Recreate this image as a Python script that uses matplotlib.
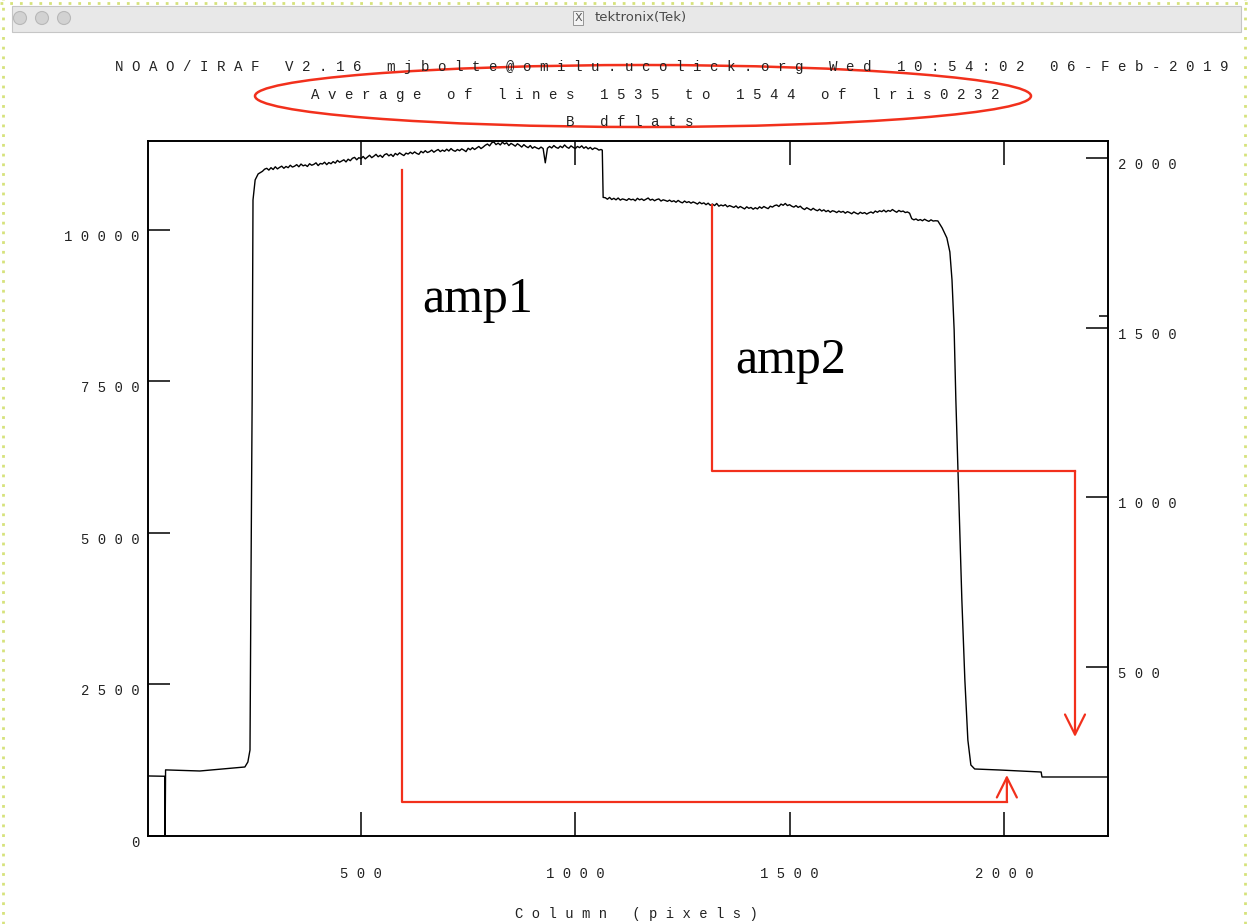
import numpy as np
import matplotlib.pyplot as plt
from matplotlib.patches import Ellipse, Rectangle
from matplotlib.lines import Line2D

W, H = 1249, 924
RED = "#f2301c"
MONO = "Liberation Mono"

# ---- data: column (pixels) vs mean counts ----
# left edge, bad column and the rise of amp1
left_cols = [3, 42, 43, 44, 124, 229, 236, 241, 243, 246, 248, 253, 260]
left_counts = [990, 985, 0, 1090, 1072, 1138, 1220, 1418, 3892, 7190, 10488, 10818, 10917]

# amp1 plateau, every 5 columns from 270 to 1060
amp1_cols = np.arange(270, 1061, 5)
amp1_counts = [
    10960, 10995, 11010, 10980, 11020, 10990, 11035, 11000, 11025, 11045,
    11010, 11040, 11020, 11060, 11030, 11045, 11070, 11035, 11080, 11050,
    11065, 11040, 11085, 11060, 11075, 11100, 11055, 11090, 11080, 11110,
    11070, 11105, 11085, 11120, 11095, 11140, 11110, 11130, 11150, 11115,
    11160, 11135, 11175, 11190, 11150, 11185, 11170, 11205, 11165, 11195,
    11225, 11185, 11210, 11240, 11200, 11225, 11190, 11235, 11250, 11215,
    11240, 11205, 11255, 11230, 11265, 11240, 11220, 11260, 11245, 11275,
    11250, 11280, 11255, 11240, 11290, 11265, 11300, 11270, 11285, 11310,
    11275, 11300, 11320, 11285, 11310, 11290, 11325, 11295, 11335, 11305,
    11290, 11320, 11300, 11330, 11310, 11285, 11340, 11315, 11350, 11320,
    11345, 11370, 11335, 11360, 11390, 11410, 11380, 11430, 11445, 11400,
    11425, 11395, 11440, 11410, 11430, 11385, 11420, 11400, 11375, 11415,
    11390, 11360, 11400, 11370, 11350, 11385, 11340, 11365, 11345, 11330,
    11360, 11335, 11100, 11340, 11370, 11345, 11385, 11355, 11340, 11375,
    11350, 11395, 11360, 11340, 11380, 11355, 11335, 11370, 11350, 11380,
    11340, 11365, 11330, 11355, 11320, 11345, 11335, 11310, 11320,
]

# step between the two amplifiers
step_cols = [1063, 1065]
step_counts = [11310, 10530]

# amp2 plateau, every 5 columns from 1070 to 1840
amp2_cols = np.arange(1070, 1841, 5)
amp2_counts = [
    10525, 10500, 10530, 10495, 10515, 10490, 10520, 10485, 10505, 10495,
    10480, 10510, 10490, 10500, 10475, 10515, 10490, 10505, 10480, 10500,
    10520, 10485, 10500, 10475, 10495, 10505, 10470, 10490, 10480, 10465,
    10485, 10460, 10475, 10450, 10480, 10455, 10440, 10470, 10445, 10460,
    10435, 10455, 10440, 10420, 10450, 10425, 10440, 10410, 10435, 10400,
    10420, 10395, 10430, 10385, 10405, 10390, 10410, 10375, 10395, 10380,
    10365, 10390, 10355, 10380, 10360, 10340, 10375, 10350, 10365, 10335,
    10360, 10340, 10375, 10350, 10380, 10360, 10345, 10385, 10370, 10395,
    10405, 10380, 10420, 10400, 10430, 10395, 10410, 10385, 10370, 10395,
    10365, 10385, 10350, 10330, 10360, 10340, 10320, 10350, 10325, 10310,
    10335, 10305, 10325, 10295, 10315, 10285, 10310, 10300, 10280, 10305,
    10285, 10300, 10270, 10295, 10280, 10260, 10290, 10270, 10255, 10285,
    10265, 10280, 10255, 10275, 10290, 10270, 10305, 10285, 10310, 10295,
    10320, 10290, 10315, 10300, 10330, 10305, 10285, 10315, 10295, 10305,
    10280, 10290, 10270, 10180, 10160, 10175, 10150, 10165, 10145, 10170,
    10150, 10135, 10160, 10140, 10145,
]

# roll-off at the right edge and the trailing overscan
right_cols = [1846, 1856, 1867, 1874, 1879, 1884, 1888, 1893, 1898, 1902,
              1909, 1916, 1923, 1932, 1991, 2087, 2089, 2243]
right_counts = [10142, 10027, 9862, 9631, 9169, 8344, 7190, 6019, 4881, 3892,
                2573, 1583, 1171, 1105, 1088, 1055, 973, 973]

xticks = [500, 1000, 1500, 2000]
yticks = [0, 2500, 5000, 7500, 10000]
rticks = [500, 1000, 1500, 2000]

header = [
    "NOAO/IRAF V2.16 mjbolte@omilu.ucolick.org Wed 10:54:02 06-Feb-2019",
    "Average of lines 1535 to 1544 of lris0232",
    "B dflats",
]


def spaced(s):
    # the Tek vector font has very wide letter spacing
    return " ".join(s)


def fx(x):
    return x / W


def fy(y):
    return 1 - y / H


column = np.concatenate([left_cols, amp1_cols, step_cols, amp2_cols, right_cols])
counts = np.concatenate([left_counts, amp1_counts, step_counts, amp2_counts, right_counts])

fig = plt.figure(figsize=(W / 100, H / 100), dpi=100)

# ---- window chrome ----
for xx in (3, 1245):
    fig.add_artist(Line2D([fx(xx), fx(xx)], [0, 1], color="#d6e27c", lw=2,
                          ls=(0, (1, 2.5))))
fig.add_artist(Line2D([0, 1], [fy(3), fy(3)], color="#d6e27c", lw=2, ls=(0, (1, 2.5))))
fig.add_artist(Rectangle((fx(12), fy(32)), fx(1241) - fx(12), 26 / H,
                         transform=fig.transFigure, facecolor="#e8e8e8",
                         edgecolor="#c6c6c6", lw=0.8))
for cx in (20, 42, 64):
    fig.add_artist(Ellipse((fx(cx), fy(18)), 13 / W, 13 / H, transform=fig.transFigure,
                           facecolor="#d2d2d2", edgecolor="#b8b8b8", lw=0.8))
fig.text(fx(578), fy(18), "X", ha="center", va="center", fontsize=8, color="#555555",
         bbox=dict(boxstyle="square,pad=0.15", fc="#f4f4f4", ec="#888888", lw=0.6))
fig.text(fx(641), fy(18), "tektronix(Tek)", ha="center", va="center",
         fontsize=9.5, color="#4a4a4a")

# ---- IRAF header ----
for (cx, cy), line in zip([(672, 67), (655, 95), (630, 122)], header):
    fig.text(fx(cx), fy(cy), spaced(line), ha="center", va="center",
             family=MONO, fontsize=10.15, color="#222222")

# ---- main plot ----
ax = fig.add_axes([fx(148), fy(836), (1108 - 148) / W, (836 - 141) / H])
ax.plot(column, counts, color="black", lw=1.0)
ax.set_xlim(3, 2243)
ax.set_ylim(0, 11460)

for sp in ax.spines.values():
    sp.set_linewidth(1.2)

ax.set_xticks(xticks)
ax.set_xticklabels([spaced(str(t)) for t in xticks], family=MONO, fontsize=10,
                   color="#222222")
ax.set_yticks(yticks)
ax.set_yticklabels([spaced(str(t)) for t in yticks], family=MONO, fontsize=10,
                   color="#222222")
ax.tick_params(axis="x", direction="in", length=17, width=1.1, top=True, pad=22)
ax.tick_params(axis="y", direction="in", length=15.8, width=1.1, right=False, pad=6)
for lab in ax.get_yticklabels():
    lab.set_va("top")

# second scale on the right hand side
ax2 = ax.twinx()
ax2.set_ylim(2, 2050)
ax2.set_yticks(rticks)
ax2.set_yticklabels([spaced(str(t)) for t in rticks], family=MONO, fontsize=10,
                    color="#222222")
ax2.set_yticks([1535], minor=True)
ax2.tick_params(axis="y", which="major", direction="in", length=15.8, width=1.1, pad=7)
ax2.tick_params(axis="y", which="minor", direction="in", length=6.5, width=1.1)
for lab in ax2.get_yticklabels():
    lab.set_va("top")
for sp in ax2.spines.values():
    sp.set_linewidth(1.2)

fig.text(fx(636), fy(914), spaced("Column (pixels)"), ha="center", va="center",
         family=MONO, fontsize=10, color="#222222")

# ---- red hand annotations ----
fig.add_artist(Ellipse((fx(643), fy(96)), 776 / W, 62 / H, transform=fig.transFigure,
                       facecolor="none", edgecolor=RED, lw=1.8))

ax.plot([596, 596, 2007], [10983, 561, 561], color=RED, lw=1.6, clip_on=False)
ax.annotate("", xy=(2007, 1006), xytext=(2007, 561),
            arrowprops=dict(arrowstyle="->,head_length=0.9,head_width=0.45",
                            color=RED, lw=1.6, shrinkA=0, shrinkB=0, mutation_scale=16))
ax.plot([1319, 1319, 2166], [10405, 6019, 6019], color=RED, lw=1.6, clip_on=False)
ax.annotate("", xy=(2166, 1633), xytext=(2166, 6019),
            arrowprops=dict(arrowstyle="->,head_length=0.9,head_width=0.45",
                            color=RED, lw=1.6, shrinkA=0, shrinkB=0, mutation_scale=16))

ax.text(642, 8640, "amp1", family="Liberation Serif", fontsize=36, color="black")
ax.text(1373, 7635, "amp2", family="Liberation Serif", fontsize=36, color="black")

fig.savefig("out.png", dpi=100)
